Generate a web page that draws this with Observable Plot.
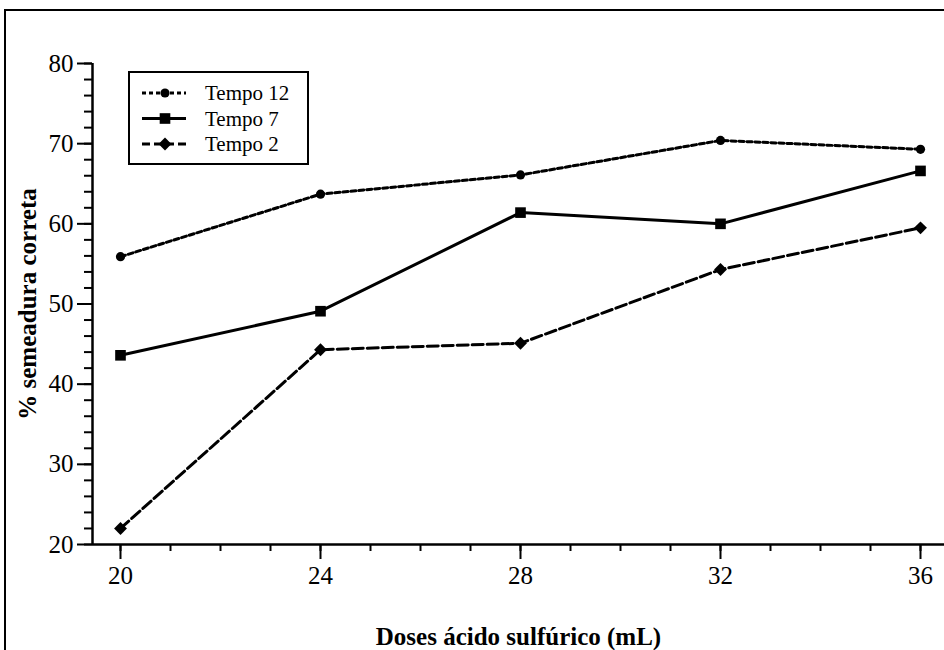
<!DOCTYPE html>
<html>
<head>
<meta charset="utf-8">
<script src="https://cdn.jsdelivr.net/npm/d3@7"></script>
<script src="https://cdn.jsdelivr.net/npm/@observablehq/plot@0.6"></script>
<style>
  html, body { margin: 0; padding: 0; background: #fff; }
  #wrap { position: relative; width: 944px; height: 650px; overflow: hidden; font-family: "Liberation Serif", "Times New Roman", serif; }
  #frame { position: absolute; left: 4px; top: 9px; width: 1000px; height: 1000px; border-left: 2px solid #000; border-top: 2px solid #000; box-sizing: border-box; pointer-events: none; }
  #wrap svg text { font-family: "Liberation Serif", "Times New Roman", serif !important; font-variant: normal !important; }
</style>
</head>
<body>
<div id="wrap"><div id="frame"></div></div>
<script>
const doses = [20, 24, 28, 32, 36];
const series = ["Tempo 12", "Tempo 7", "Tempo 2"];
const tempo12 = [55.9, 63.7, 66.1, 70.4, 69.3];
const tempo7 = [43.6, 49.1, 61.4, 60.0, 66.6];
const tempo2 = [22.0, 44.3, 45.1, 54.3, 59.5];
const xMajorTicks = [20, 24, 28, 32, 36];
const xMinorTicks = d3.range(20, 37, 1);
const yMajorTicks = [20, 30, 40, 50, 60, 70, 80];
const yMinorTicks = d3.range(20, 81, 2);
const xLabel = "Doses ácido sulfúrico (mL)";
const yLabel = "% semeadura correta";

const styles = {
  "Tempo 12": {dash: "5,3", legendDash: "4,3", symbol: "circle", r: 4.6},
  "Tempo 7": {dash: null, legendDash: null, symbol: "square", r: 6.0},
  "Tempo 2": {dash: "11,4", legendDash: "8,4", symbol: "diamond2", r: 5.8}
};
const values = {"Tempo 12": tempo12, "Tempo 7": tempo7, "Tempo 2": tempo2};
const rows = series.flatMap(s => doses.map((d, i) => ({serie: s, dose: d, value: values[s][i]})));

const xDom = [19.44, 36.48];
const font = "Liberation Serif";

const marks = [];
marks.push(Plot.ruleY([20], {stroke: "#000", strokeWidth: 2.5}));
marks.push(Plot.ruleX([xDom[0]], {y1: 20, y2: 80, stroke: "#000", strokeWidth: 2.5}));
marks.push(Plot.axisX({ticks: xMinorTicks, tickSize: 7, text: null, strokeWidth: 2, label: null}));
marks.push(Plot.axisX({ticks: xMajorTicks, tickSize: 15, tickPadding: 7, strokeWidth: 2, fontSize: 25, fontFamily: font, label: xLabel, labelAnchor: "center", labelOffset: 100, labelArrow: "none"}));
marks.push(Plot.axisY({ticks: yMinorTicks, tickSize: 8, text: null, strokeWidth: 2, label: null}));
marks.push(Plot.axisY({ticks: yMajorTicks, tickSize: 15, tickPadding: 4, strokeWidth: 2, fontSize: 25, fontFamily: font, label: yLabel, labelAnchor: "center", labelOffset: 74, labelArrow: "none"}));

for (const s of series) {
  const data = rows.filter(r => r.serie === s);
  marks.push(Plot.line(data, {x: "dose", y: "value", stroke: "#000", strokeWidth: 3, strokeDasharray: styles[s].dash}));
  marks.push(Plot.dot(data, {x: "dose", y: "value", fill: "#000", stroke: "none", symbol: () => styles[s].symbol, r: styles[s].r}));
}

const chart = Plot.plot({
  width: 944,
  height: 650,
  marginLeft: 92,
  marginRight: 0,
  marginTop: 63,
  marginBottom: 106,
  x: {domain: xDom},
  y: {domain: [20, 80]},
  style: {fontFamily: font, background: "transparent", color: "#000", overflow: "visible"},
  marks
});
const sel = d3.select(chart);
sel.selectAll("g[aria-label='x-axis tick label'], g[aria-label='y-axis tick label']")
  .attr("font-size", 25).attr("font-family", font).attr("font-variant", null)
  .selectAll("text").attr("font-size", 25).attr("font-family", font);
sel.selectAll("g[aria-label='x-axis label'], g[aria-label='y-axis label']")
  .attr("font-size", 25).attr("font-weight", "bold").attr("font-family", font)
  .selectAll("text").attr("font-size", 25).attr("font-weight", "bold");
document.getElementById("wrap").appendChild(chart);

// Legend
const lw = 181, lh = 94;
const leg = d3.create("svg").attr("width", lw).attr("height", lh)
  .style("position", "absolute").style("left", "128px").style("top", "71px");
leg.append("rect").attr("x", 1).attr("y", 1).attr("width", lw - 2).attr("height", lh - 2)
  .attr("fill", "#fff").attr("stroke", "#000").attr("stroke-width", 2);
series.forEach((s, i) => {
  const cy = 22 + i * 25.5;
  leg.append("line").attr("x1", 14).attr("x2", 58).attr("y1", cy).attr("y2", cy)
    .attr("stroke", "#000").attr("stroke-width", 3).attr("stroke-dasharray", styles[s].legendDash);
  const sym = {circle: d3.symbolCircle, square: d3.symbolSquare, diamond2: d3.symbolDiamond2}[styles[s].symbol];
  leg.append("path").attr("d", d3.symbol(sym, Math.PI * styles[s].r * styles[s].r)())
    .attr("transform", `translate(37,${cy})`).attr("fill", "#000");
  leg.append("text").attr("x", 77).attr("y", cy).attr("dy", "0.35em")
    .attr("font-family", font).attr("font-size", 21).text(s);
});
document.getElementById("wrap").appendChild(leg.node());
</script>
</body>
</html>
